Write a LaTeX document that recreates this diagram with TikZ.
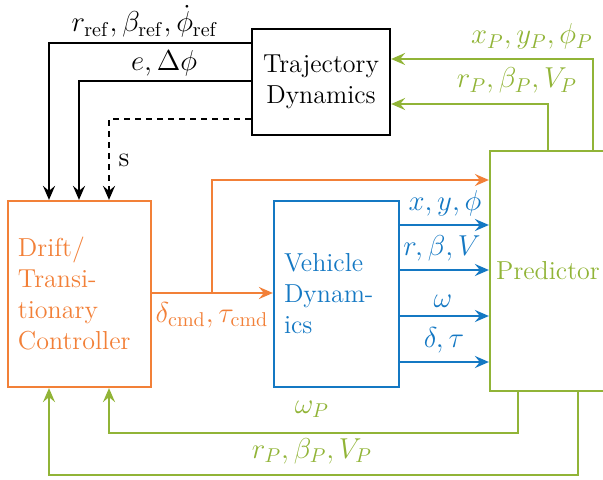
\documentclass[tikz,border=0pt]{standalone}
\usetikzlibrary{arrows.meta}
\definecolor{ctrlorange}{RGB}{242,128,56}
\definecolor{vehblue}{RGB}{20,120,195}
\definecolor{predgreen}{RGB}{145,180,55}
\begin{document}
\begin{tikzpicture}[x=0.5pt,y=-0.5pt,
  every node/.style={font=\fontsize{13}{15.5}\selectfont},
  blk/.style={draw, line width=1.1pt, inner sep=0pt},
  arr/.style={line width=1.1pt, -{Stealth[length=7pt,width=6pt,inset=2.5pt]}},
  lbl/.style={anchor=base, inner sep=0pt, font=\fontsize{14}{16}\selectfont},
]
\useasboundingbox (0,0) rectangle (603,480);

% blocks
\node[blk, minimum width=69pt, minimum height=53pt, align=center] (traj) at (321,82) {Trajectory\\Dynamics};
\node[blk, draw=ctrlorange, text=ctrlorange, minimum height=93pt, text width=61.5pt, inner xsep=5pt, align=left] (ctrl) at (79.5,294) {Drift/\\Transi-\\tionary\\Controller};
\node[blk, draw=vehblue, text=vehblue, minimum height=93pt, text width=52.5pt, inner xsep=5pt, align=left] (veh) at (336.5,294) {Vehicle\\Dynam-\\ics};
\node[blk, draw=predgreen, text=predgreen, minimum width=58pt, minimum height=120pt] (pred) at (548,271) {Predictor};

% references from the trajectory block to the controller
\coordinate (kA) at (49,43);
\coordinate (kB) at (79,81);
\coordinate (kC) at (109,119);
\draw[arr] (traj.west |- kA) -| (ctrl.north -| kA);
\draw[arr] (traj.west |- kB) -| (ctrl.north -| kB);
\draw[arr, dash pattern=on 3pt off 2.5pt] (traj.west |- kC) -| (ctrl.north -| kC);
\node[lbl] (lref) at (145,32) {$r_{\mathrm{ref}}, \beta_{\mathrm{ref}}, \dot{\phi}_{\mathrm{ref}}$};
\node[lbl] (lerr) at (164,71) {$e, \Delta\phi$};
\node[lbl] (ls) at (124,167) {s};

% predictor outputs back to the trajectory block
\coordinate (gA) at (593,59);
\coordinate (gB) at (548,104);
\draw[arr, predgreen] (pred.north -| gA) |- (traj.east |- gA);
\draw[arr, predgreen] (pred.north -| gB) |- (traj.east |- gB);
\node[lbl, text=predgreen] (lxyp) at (532,44) {$x_P, y_P, \phi_P$};
\node[lbl, text=predgreen] (lrbvp) at (517,88) {$r_P, \beta_P, V_P$};

% commands from the controller
\coordinate (oA) at (212,293);
\coordinate (oB) at (212,180);
\draw[arr, ctrlorange] (ctrl.east |- oA) -- (veh.west |- oA);
\draw[arr, ctrlorange] (oA) |- (pred.west |- oB);
\node[lbl, text=ctrlorange] (lcmd) at (212,322) {$\delta_{\mathrm{cmd}}, \tau_{\mathrm{cmd}}$};

% vehicle states into the predictor
\coordinate (b1) at (0,225);
\coordinate (b2) at (0,270);
\coordinate (b3) at (0,316);
\coordinate (b4) at (0,362);
\draw[arr, vehblue] (veh.east |- b1) -- (pred.west |- b1);
\draw[arr, vehblue] (veh.east |- b2) -- (pred.west |- b2);
\draw[arr, vehblue] (veh.east |- b3) -- (pred.west |- b3);
\draw[arr, vehblue] (veh.east |- b4) -- (pred.west |- b4);
\node[lbl, text=vehblue] (lxy) at (445,211) {$x, y, \phi$};
\node[lbl, text=vehblue] (lrbv) at (442,256) {$r, \beta, V$};
\node[lbl, text=vehblue] (lw) at (443,307) {$\omega$};
\node[lbl, text=vehblue] (ldt) at (444,347) {$\delta, \tau$};

% predictor feedback to the controller
\coordinate (wA) at (518,433);
\coordinate (wB) at (109,433);
\coordinate (vA) at (578,475);
\coordinate (vB) at (49,475);
\draw[arr, predgreen] (pred.south -| wA) |- (wB) -- (ctrl.south -| wB);
\draw[arr, predgreen] (pred.south -| vA) |- (vB) -- (ctrl.south -| vB);
\node[lbl, text=predgreen] (lwp) at (312,413) {$\omega_P$};
\node[lbl, text=predgreen] (lrbvq) at (312,458) {$r_P, \beta_P, V_P$};
\end{tikzpicture}
\end{document}
